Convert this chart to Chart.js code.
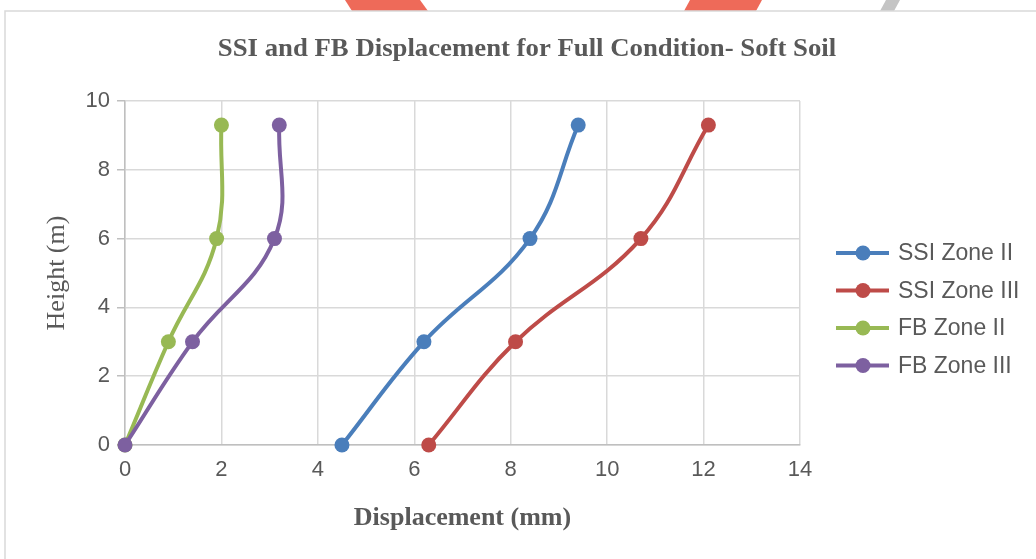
<!DOCTYPE html>
<html>
<head>
<meta charset="utf-8">
<script src="https://cdn.jsdelivr.net/npm/chart.js@4"></script>
<style>
  html, body { margin: 0; padding: 0; background: #ffffff; }
  #wrap { position: relative; width: 1036px; height: 559px; }
</style>
</head>
<body>
<div id="wrap"><canvas id="c" width="1036" height="559"></canvas></div>
<script>
// ---- data ----
const heights = [0, 3, 6, 9.3];
const ssiZone2 = [4.5, 6.2, 8.4, 9.4];
const ssiZone3 = [6.3, 8.1, 10.7, 12.1];
const fbZone2 = [0, 0.9, 1.9, 2.0];
const fbZone3 = [0, 1.4, 3.1, 3.2];
const seriesNames = ['SSI Zone II', 'SSI Zone III', 'FB Zone II', 'FB Zone III'];
const seriesColors = ['#4A7EBB', '#BE4B48', '#98B954', '#7D60A0'];
const xTicks = [0, 2, 4, 6, 8, 10, 12, 14];
const yTicks = [0, 2, 4, 6, 8, 10];

const titleText = 'SSI and FB Displacement for Full Condition- Soft Soil';
const xTitle = 'Displacement (mm)';
const yTitle = 'Height (m)';
const textColor = '#595959';
const serif = '"Liberation Serif", "Times New Roman", serif';
const sans = '"Liberation Sans", Arial, sans-serif';

function pts(xs) { return xs.map((x, i) => ({ x: x, y: heights[i] })); }
const allX = [ssiZone2, ssiZone3, fbZone2, fbZone3];

const datasets = allX.map((xs, i) => ({
  label: seriesNames[i],
  data: pts(xs),
  showLine: true,
  borderColor: seriesColors[i],
  backgroundColor: seriesColors[i],
  borderWidth: 4,
  pointRadius: 7.5,
  pointHoverRadius: 7.5,
  pointBorderWidth: 0,
  tension: 0.4,
  cubicInterpolationMode: 'default',
  clip: false,
  order: allX.length - 1 - i
}));

// frame, title and legend plugin
const framePlugin = {
  id: 'frame',
  beforeDraw(chart) {
    const ctx = chart.ctx;
    ctx.save();
    ctx.fillStyle = '#ffffff';
    ctx.fillRect(0, 0, chart.width, chart.height);
    // watermark hints above frame
    ctx.fillStyle = 'rgba(235,80,60,0.85)';
    ctx.beginPath(); ctx.moveTo(345, 0); ctx.lineTo(420, 0); ctx.lineTo(428, 11); ctx.lineTo(352, 11); ctx.closePath(); ctx.fill();
    ctx.beginPath(); ctx.moveTo(690, 0); ctx.lineTo(762, 0); ctx.lineTo(756, 11); ctx.lineTo(684, 11); ctx.closePath(); ctx.fill();
    ctx.fillStyle = 'rgba(190,190,190,0.9)';
    ctx.beginPath(); ctx.moveTo(886, 0); ctx.lineTo(900, 0); ctx.lineTo(894, 11); ctx.lineTo(880, 11); ctx.closePath(); ctx.fill();
    ctx.strokeStyle = '#d9d9d9';
    ctx.lineWidth = 1.5;
    ctx.beginPath();
    ctx.moveTo(5, 559); ctx.lineTo(5, 11); ctx.lineTo(1036, 11);
    ctx.stroke();
    // chart title
    ctx.fillStyle = textColor;
    ctx.font = 'bold 25px ' + serif;
    ctx.textAlign = 'center';
    ctx.textBaseline = 'alphabetic';
    ctx.translate(527, 56);
    ctx.scale(1.07, 1);
    ctx.fillText(titleText, 0, 0);
    ctx.restore();
  },
  afterDraw(chart) {
    const ctx = chart.ctx;
    ctx.save();
    const x0 = 836, x1 = 889, xc = 863, tx = 898;
    const y0 = 253, dy = 37.5;
    chart.data.datasets.forEach((ds, i) => {
      const y = y0 + i * dy;
      ctx.strokeStyle = ds.borderColor;
      ctx.lineWidth = 4;
      ctx.beginPath(); ctx.moveTo(x0, y); ctx.lineTo(x1, y); ctx.stroke();
      ctx.fillStyle = ds.backgroundColor;
      ctx.beginPath(); ctx.arc(xc, y, 7.5, 0, Math.PI * 2); ctx.fill();
      ctx.fillStyle = textColor;
      ctx.font = '23px ' + sans;
      ctx.textBaseline = 'middle';
      ctx.textAlign = 'left';
      ctx.fillText(ds.label, tx, y + 1);
    });
    ctx.restore();
  }
};

new Chart(document.getElementById('c'), {
  type: 'scatter',
  data: { datasets: datasets },
  plugins: [framePlugin],
  options: {
    responsive: false,
    animation: false,
    devicePixelRatio: 1,
    layout: { padding: { left: 0, right: 236, top: 101, bottom: 0 } },
    plugins: {
      legend: { display: false },
      tooltip: { enabled: false },
      title: { display: false }
    },
    scales: {
      x: {
        type: 'linear',
        min: 0, max: 14,
        afterBuildTicks(scale) { scale.ticks = xTicks.map(v => ({ value: v })); },
        afterFit(scale) { scale.height = 114; },
        grid: { color: '#d9d9d9', lineWidth: 1.5, drawTicks: false },
        border: { color: '#bfbfbf', width: 1.5 },
        ticks: { color: textColor, font: { family: sans, size: 22 }, padding: 12, maxRotation: 0 },
        title: {
          display: true, text: xTitle, color: textColor,
          font: { family: serif, size: 26, weight: 'bold', lineHeight: 1.2 },
          padding: { top: 0, bottom: 25.4 }
        }
      },
      y: {
        type: 'linear',
        min: 0, max: 10,
        afterBuildTicks(scale) { scale.ticks = yTicks.map(v => ({ value: v })); },
        afterFit(scale) { scale.width = 125; },
        grid: { color: '#d9d9d9', lineWidth: 1.5, drawTicks: true, tickLength: 8, tickColor: '#bfbfbf' },
        border: { color: '#bfbfbf', width: 1.5 },
        ticks: { color: textColor, font: { family: sans, size: 22 }, padding: 7 },
        title: {
          display: true, text: yTitle, color: textColor,
          font: { family: serif, size: 26, weight: 'normal', lineHeight: 1.2 },
          padding: { top: 41.4, bottom: 0 }
        }
      }
    }
  }
});
</script>
</body>
</html>
